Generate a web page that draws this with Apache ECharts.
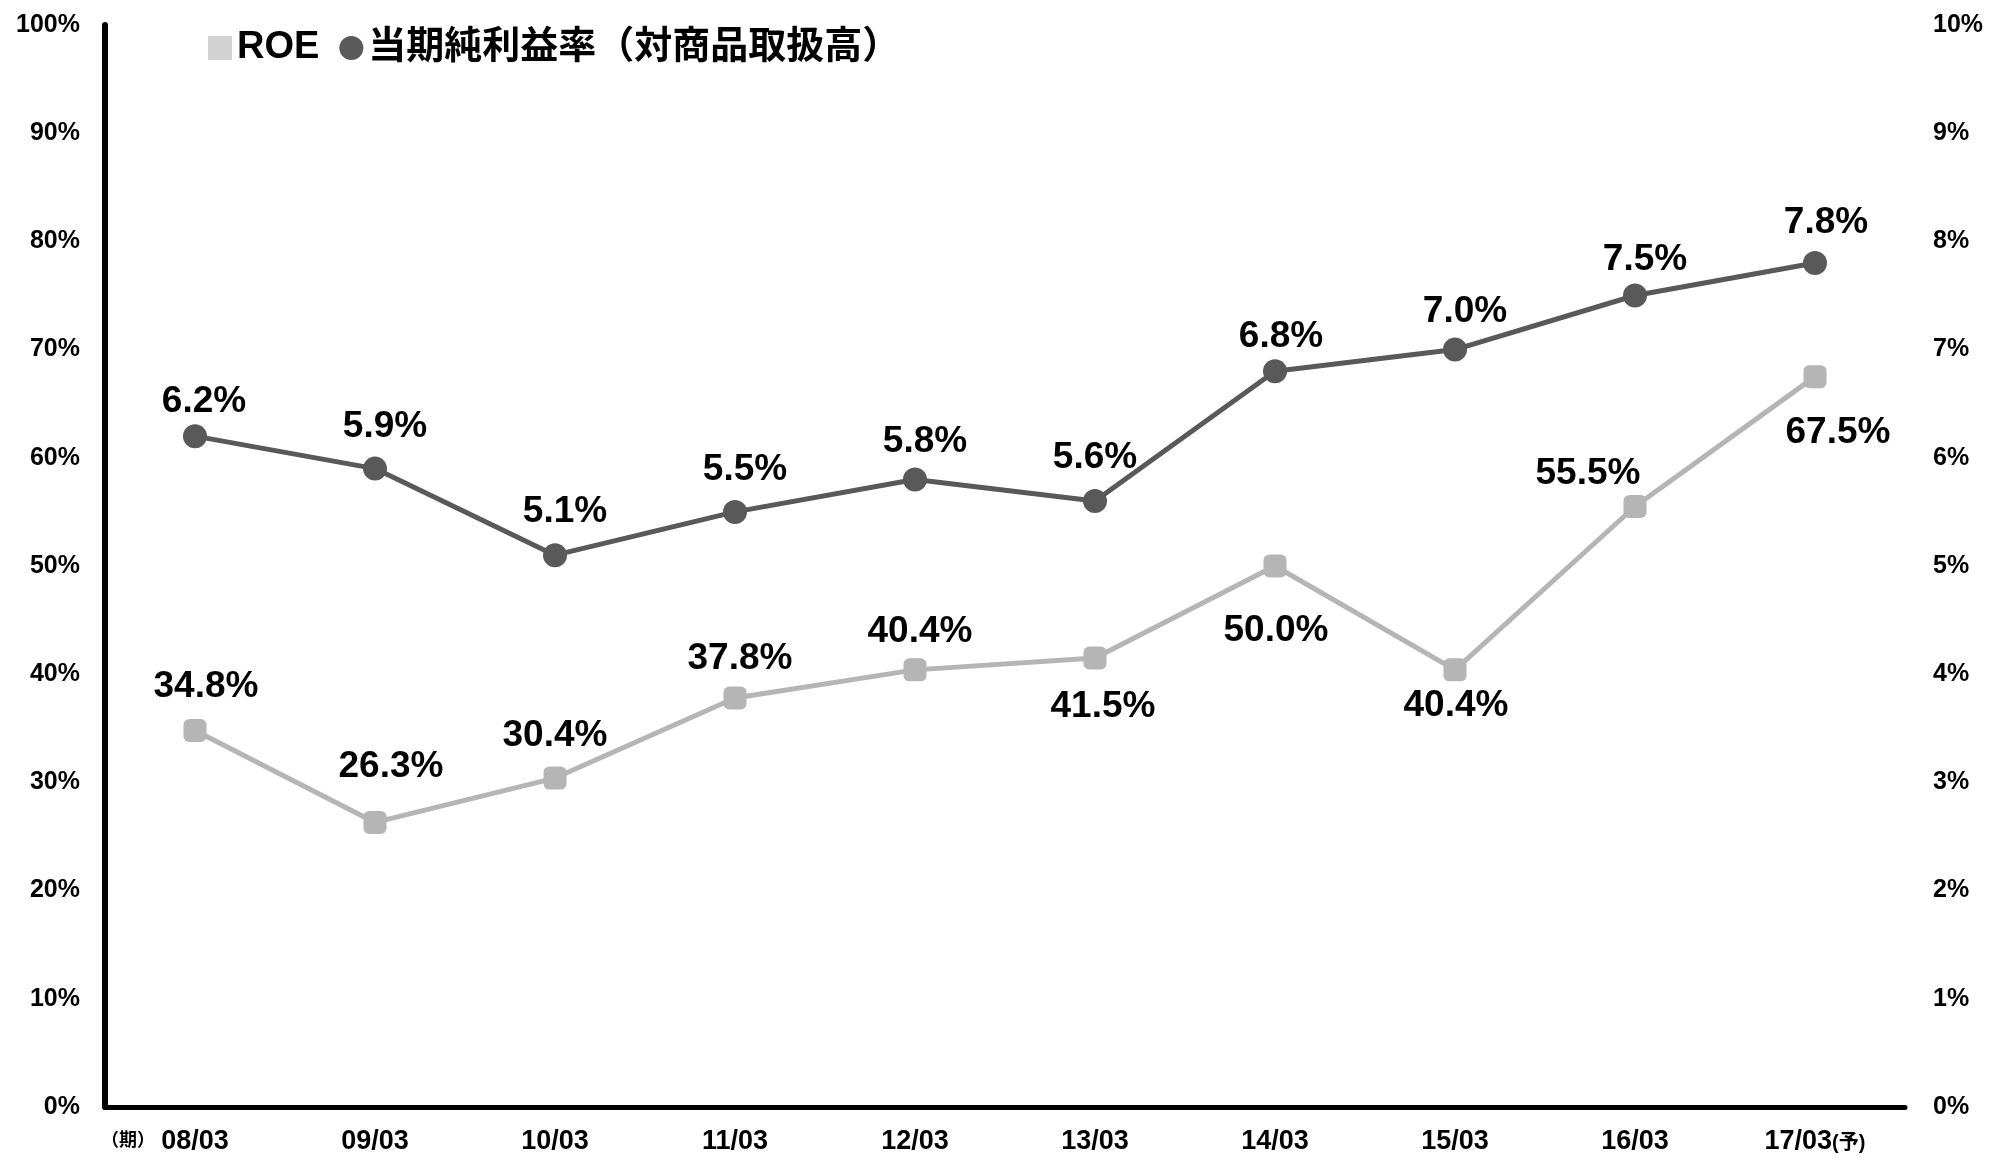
<!DOCTYPE html>
<html>
<head>
<meta charset="utf-8">
<script src="https://cdn.jsdelivr.net/npm/echarts@6/dist/echarts.min.js"></script>
<style>
  html, body { margin: 0; padding: 0; background: #fff; }
  #chart { width: 1992px; height: 1160px; }
</style>
</head>
<body>
<div id="chart"></div>
<script>
// データ
const categories = ['08/03', '09/03', '10/03', '11/03', '12/03', '13/03', '14/03', '15/03', '16/03', '17/03(予)']
const roeValues = [34.8, 26.3, 30.4, 37.8, 40.4, 41.5, 50.0, 40.4, 55.5, 67.5]
const marginValues = [6.2, 5.9, 5.1, 5.5, 5.8, 5.6, 6.8, 7.0, 7.5, 7.8]
const roeName = 'ROE'
const marginName = '当期純利益率（対商品取扱高）'

// ラベル位置（点の中心からのずれ）
const roeLabelOffsets = [[11, -44], [16, -56], [0, -42], [5, -39], [5, -38], [8, 49], [1, 65], [1, 36], [-47, -33], [23, 56]]
const marginLabelOffsets = [[9, -34], [10, -42], [10, -43], [10, -42], [10, -38], [0, -43], [6, -34], [10, -38], [10, -36], [11, -40]]

const FONT = '"Liberation Sans", "Noto Sans CJK JP", sans-serif'
const labelStyle = {
  show: true,
  position: 'inside',
  align: 'center',
  verticalAlign: 'middle',
  color: '#000',
  fontSize: 37,
  fontWeight: 'bold',
  fontFamily: FONT
}

const chart = echarts.init(document.getElementById('chart'))

const option = {
  backgroundColor: '#fff',
  animation: false,
  grid: { left: 105, right: 87, top: 25, bottom: 53 },
  legend: {
    left: 203,
    top: 24,
    itemWidth: 24,
    itemHeight: 24,
    itemGap: 20,
    textStyle: { fontSize: 38, fontWeight: 'bold', color: '#000', fontFamily: FONT },
    data: [
      { name: roeName, icon: 'rect', itemStyle: { color: '#d3d3d3' } },
      { name: marginName, icon: 'circle', itemStyle: { color: '#595959' } }
    ]
  },
  xAxis: {
    type: 'category',
    data: categories,
    boundaryGap: true,
    axisLine: { lineStyle: { color: '#000', width: 5 } },
    axisTick: { show: false },
    axisLabel: {
      margin: 21,
      interval: 0,
      color: '#000',
      fontSize: 27,
      fontWeight: 'bold',
      fontFamily: FONT,
      formatter: v => v.replace('(予)', '{s|(予)}'),
      rich: { s: { fontSize: 20, fontWeight: 'bold', fontFamily: FONT, color: '#000', padding: [4, 0, 0, 0] } }
    }
  },
  yAxis: [
    {
      type: 'value',
      min: 0,
      max: 100,
      interval: 10,
      axisLine: { show: true, lineStyle: { color: '#000', width: 6 } },
      axisTick: { show: false },
      splitLine: { show: false },
      axisLabel: { margin: 25, color: '#000', fontSize: 25, fontWeight: 'bold', fontFamily: FONT, formatter: '{value}%' }
    },
    {
      type: 'value',
      min: 0,
      max: 10,
      interval: 1,
      position: 'right',
      axisLine: { show: false },
      axisTick: { show: false },
      splitLine: { show: false },
      axisLabel: { margin: 28, color: '#000', fontSize: 25, fontWeight: 'bold', fontFamily: FONT, formatter: '{value}%' }
    }
  ],
  series: [
    {
      name: roeName,
      type: 'line',
      yAxisIndex: 0,
      symbol: 'roundRect',
      symbolSize: 23,
      lineStyle: { color: '#b5b5b5', width: 5 },
      itemStyle: { color: '#b5b5b5' },
      data: roeValues.map((v, i) => ({
        value: v,
        label: { ...labelStyle, offset: roeLabelOffsets[i], formatter: v.toFixed(1) + '%' }
      })),
      z: 2
    },
    {
      name: marginName,
      type: 'line',
      yAxisIndex: 1,
      symbol: 'circle',
      symbolSize: 24,
      lineStyle: { color: '#595959', width: 5 },
      itemStyle: { color: '#595959' },
      data: marginValues.map((v, i) => ({
        value: v,
        label: { ...labelStyle, offset: marginLabelOffsets[i], formatter: v.toFixed(1) + '%' }
      })),
      z: 3
    }
  ],
  graphic: [
    {
      type: 'text',
      left: 101,
      top: 1132,
      style: { text: '（期）', fontSize: 18, fontWeight: 'bold', fill: '#000', fontFamily: FONT }
    }
  ]
}

chart.setOption(option)
</script>
</body>
</html>
